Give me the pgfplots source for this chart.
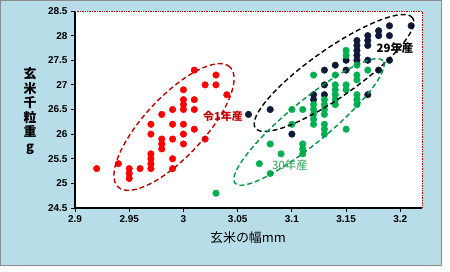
\documentclass[border=0pt]{standalone}
\usepackage{pgfplots}
\pgfplotsset{compat=1.18}
\usepackage{fontspec}
\setmainfont{Liberation Sans}
\newfontfamily\jp{Noto Sans CJK JP}
\definecolor{bgblue}{HTML}{B7DDE8}
\definecolor{ptred}{HTML}{FF0000}
\definecolor{ptblack}{HTML}{0F1A38}
\definecolor{ptgreen}{HTML}{00B050}
\definecolor{darkred}{HTML}{C00000}
\definecolor{txtgreen}{HTML}{22A050}
\begin{document}
\begin{tikzpicture}
\useasboundingbox (0bp,0bp) rectangle (450bp,272bp);
\fill[bgblue] (0bp,7bp) rectangle (441bp,272bp);
\draw[black!45, line width=0.8bp] (0.4bp,7bp) rectangle (441bp,271.6bp);
\begin{axis}[
  at={(75bp,64bp)}, anchor=south west,
  scale only axis, width=347bp, height=197bp,
  xmin=2.9, xmax=3.22, ymin=24.5, ymax=28.5,
  axis x line*=bottom, axis y line*=left,
  axis line style={black, line width=1.3bp},
  tick style={black, line width=1bp},
  major tick length=4bp, tick align=outside,
  xtick={2.9,2.95,3,3.05,3.1,3.15,3.2},
  ytick={24.5,25,25.5,26,26.5,27,27.5,28,28.5},
  ticklabel style={font=\fontsize{10}{12}\selectfont\bfseries},
  /pgf/number format/assume math mode=true,
  axis background/.style={fill=white},
  clip=false,
]
\draw[darkred, densely dotted, line width=0.7bp] (rel axis cs:0,1) -- (rel axis cs:1,1) -- (rel axis cs:1,0);
% 29年産
\addplot[only marks, mark=*, mark size=3.3bp, mark options={draw=ptblack, fill=ptblack}] coordinates {
(3.06,26.4)(3.08,26.5)(3.10,26.0)(3.12,26.8)(3.12,26.7)(3.13,26.8)(3.13,27.0)(3.13,27.3)
(3.14,27.4)(3.15,27.3)(3.15,27.5)(3.16,27.5)(3.16,27.6)(3.16,27.7)(3.16,27.8)(3.16,27.9)
(3.17,26.8)(3.17,27.5)(3.17,27.8)(3.17,27.9)(3.17,28.0)(3.18,27.3)(3.18,28.0)(3.18,28.1)
(3.19,27.5)(3.19,28.0)(3.19,28.2)(3.21,28.2)
};
% 30年産
\addplot[only marks, mark=*, mark size=3.3bp, mark options={draw=ptgreen, fill=ptgreen}] coordinates {
(3.03,24.8)(3.07,25.4)(3.08,25.2)(3.08,25.8)(3.09,25.6)
(3.10,26.5)(3.10,26.2)
(3.11,26.5)(3.11,25.8)(3.11,25.7)(3.11,25.6)
(3.12,27.2)(3.12,26.6)(3.12,26.5)(3.12,26.4)(3.12,26.3)(3.12,26.2)
(3.13,26.7)(3.13,26.6)(3.13,26.5)(3.13,26.4)(3.13,26.2)(3.13,26.1)(3.13,26.0)
(3.14,27.2)(3.14,27.0)(3.14,26.9)(3.14,26.8)(3.14,26.7)(3.14,26.6)
(3.15,27.7)(3.15,27.6)(3.15,27.0)(3.15,26.9)(3.15,26.1)
(3.16,27.4)(3.16,27.2)(3.16,27.1)(3.16,26.8)(3.16,26.7)(3.16,26.6)
(3.17,27.3)
};
% 令1年産
\addplot[only marks, mark=*, mark size=3.3bp, mark options={draw=ptred, fill=ptred}] coordinates {
(2.92,25.3)(2.94,25.4)(2.95,25.3)(2.95,25.2)(2.95,25.1)(2.96,25.3)
(2.97,25.6)(2.97,25.5)(2.97,25.4)(2.97,25.3)(2.97,26.2)(2.97,26.0)
(2.98,25.9)(2.98,25.8)(2.98,25.7)(2.98,26.4)
(2.99,26.2)(2.99,25.9)(2.99,25.5)(2.99,25.3)(2.99,26.5)
(3.00,26.2)(3.00,26.0)(3.00,25.8)(3.00,26.9)(3.00,26.7)(3.00,26.6)(3.00,26.5)
(3.01,26.7)(3.01,26.5)(3.01,26.1)(3.01,27.3)
(3.02,27.0)(3.02,25.9)(3.03,27.2)(3.03,27.0)(3.04,26.8)
};
\end{axis}
% ellipses
\draw[darkred, dash pattern=on 5bp off 3bp, line width=1.4bp, rotate around={47:(174bp,145bp)}] (174bp,145bp) ellipse [x radius=82bp, y radius=30bp];
\draw[black, dash pattern=on 5bp off 3bp, line width=1.4bp, rotate around={35:(334bp,199bp)}] (334bp,199bp) ellipse [x radius=96bp, y radius=24bp];
\draw[ptgreen!85!black, dash pattern=on 5bp off 3bp, line width=1.4bp, rotate around={39.6:(309bp,150bp)}] (309bp,150bp) ellipse [x radius=96bp, y radius=21bp];
% labels
\node[align=center, font=\jp\bfseries\fontsize{13}{14.5}\selectfont] at (30bp,161bp) {玄\\米\\千\\粒\\重\\g};
\node[font=\jp\fontsize{13}{15}\selectfont] at (248bp,34bp) {玄米の幅mm};
\node[font=\jp\bfseries\fontsize{11}{13}\selectfont, text=darkred] at (223bp,156bp) {令1年産};
\node[font=\jp\bfseries\fontsize{11.5}{13}\selectfont, text=black] at (395bp,224bp) {29年産};
\node[font=\jp\fontsize{11.5}{13}\selectfont, text=txtgreen] at (290bp,107bp) {30年産};
\end{tikzpicture}
\end{document}
